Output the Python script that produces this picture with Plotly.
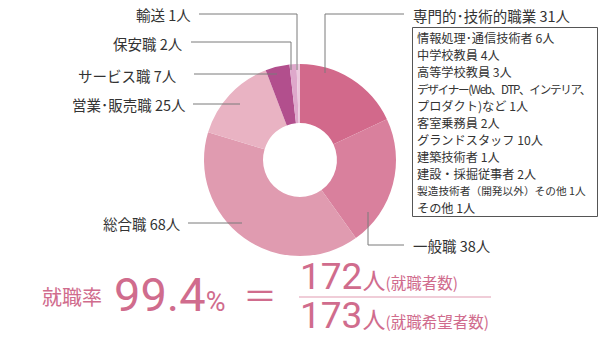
import plotly.graph_objects as go

# Employment destinations (people)
categories = ["専門的・技術的職業", "一般職", "総合職", "営業・販売職", "サービス職", "保安職", "輸送"]
counts = [31, 38, 68, 25, 7, 2, 1]
slice_colors = ["#d2698b", "#d9809d", "#e09bb0", "#e9b3c3", "#b24f8d", "#dea8cb", "#ecc8dd"]

# Breakdown of 専門的・技術的職業
detail_labels = ["情報処理･通信技術者", "中学校教員", "高等学校教員", "デザイナー(Web、DTP、インテリア、\nプロダクト)など",
                 "客室乗務員", "グランドスタッフ", "建築技術者", "建設・採掘従事者",
                 "製造技術者（開発以外）その他", "その他"]
detail_counts = [6, 4, 3, 1, 2, 10, 1, 2, 1, 1]

employed = 172
applicants = 173
rate = round(employed / applicants * 100, 1)

W, H = 600, 339
TEXT = "#333333"
LINE = "#7a7a7a"
PINK = "#d06c8d"
JP = "Noto Sans CJK JP"
NUM = "Roboto"

cx, cy, R = 300, 160, 96

fig = go.Figure()
fig.add_trace(go.Pie(
    labels=categories, values=counts, sort=False, direction="clockwise", rotation=0,
    hole=0.385, marker=dict(colors=slice_colors, line=dict(width=0)),
    textinfo="none", hoverinfo="label+value", showlegend=False,
    domain=dict(x=[(cx - R) / W, (cx + R) / W], y=[1 - (cy + R) / H, 1 - (cy - R) / H]),
))

def lbl(name, n):
    return f"{name} {n}人"

# outer labels: (text, x, y, anchor)
outer = [
    (lbl(categories[6], counts[6]), 193, 14, "right"),
    (lbl(categories[5], counts[5]), 185, 43, "right"),
    (lbl(categories[4], counts[4]), 179, 75, "right"),
    (lbl("営業･販売職", counts[3]), 188, 104, "right"),
    (lbl(categories[2], counts[2]), 183, 223, "right"),
    (lbl(categories[1], counts[1]), 411, 245, "left"),
    (lbl("専門的･技術的職業", counts[0]), 411, 15, "left"),
]
for t, x, y, a in outer:
    fig.add_annotation(x=x, y=y, xref="x", yref="y", text=t, showarrow=False,
                       xanchor=a, yanchor="middle", font=dict(family=JP, size=14.5, color=TEXT))

# leader lines
leaders = [
    [(199, 14), (297, 14), (297, 70)],
    [(191, 42), (291, 42), (291, 70)],
    [(194, 74), (277, 74)],
    [(193, 104), (240, 104)],
    [(188, 223), (242, 223)],
    [(368, 212), (368, 245), (404, 245)],
    [(404, 14), (325, 14), (325, 73)],
]
for pts in leaders:
    path = "M " + " L ".join(f"{x},{y}" for x, y in pts)
    fig.add_shape(type="path", path=path, xref="x", yref="y", line=dict(color=LINE, width=1))

# breakdown box
fig.add_shape(type="rect", x0=412.5, y0=27.5, x1=597.5, y1=216.5, xref="x", yref="y",
              line=dict(color="#555555", width=1))
rows = []
for name, n in zip(detail_labels, detail_counts):
    parts = name.split("\n")
    if len(parts) > 1:
        rows.append((f"<span style='letter-spacing:-1.3px;font-size:11.6px'>{parts[0]}</span>", 12.2))
        rows.append((f"{parts[1]} {n}人", 12.2))
    elif len(name) > 10:
        rows.append((f"{name} {n}人", 10.7))
    else:
        rows.append((f"{name} {n}人", 12.2))
for i, (t, fs) in enumerate(rows):
    fig.add_annotation(x=416, y=37.5 + i * 17, xref="x", yref="y", text=t, showarrow=False,
                       xanchor="left", yanchor="middle", borderpad=0,
                       font=dict(family=JP, size=fs, color=TEXT))

# employment rate formula
fig.add_annotation(x=40, y=296, xref="x", yref="y", text="就職率", showarrow=False,
                   xanchor="left", yanchor="middle", font=dict(family=JP, size=20, color=PINK))
fig.add_annotation(x=112, y=294, xref="x", yref="y",
                   text=f"{rate}<span style='font-size:27px'>%</span>", showarrow=False,
                   xanchor="left", yanchor="middle", font=dict(family=NUM, size=47, color=PINK))
fig.add_annotation(x=260, y=294, xref="x", yref="y", text="＝", showarrow=False,
                   xanchor="center", yanchor="middle", font=dict(family=JP, size=34, color=PINK))

def count_text(n, note):
    return (f"{n}<span style='font-size:23px;font-family:Noto Sans CJK JP'>人</span>"
            f"<span style='font-size:15.5px;font-family:Noto Sans CJK JP'>({note})</span>")

fig.add_annotation(x=298, y=276, xref="x", yref="y", text=count_text(employed, "就職者数"),
                   showarrow=False, xanchor="left", yanchor="middle",
                   font=dict(family=NUM, size=37, color=PINK))
fig.add_shape(type="line", x0=299, x1=491, y0=297, y1=297, xref="x", yref="y",
              line=dict(color="#ebbccb", width=1.5))
fig.add_annotation(x=298, y=315, xref="x", yref="y", text=count_text(applicants, "就職希望者数"),
                   showarrow=False, xanchor="left", yanchor="middle",
                   font=dict(family=NUM, size=37, color=PINK))

fig.update_layout(
    width=W, height=H, margin=dict(l=0, r=0, t=0, b=0),
    paper_bgcolor="white", plot_bgcolor="white",
    xaxis=dict(range=[0, W], visible=False, fixedrange=True),
    yaxis=dict(range=[H, 0], visible=False, fixedrange=True),
)
fig.write_html("out.html")
